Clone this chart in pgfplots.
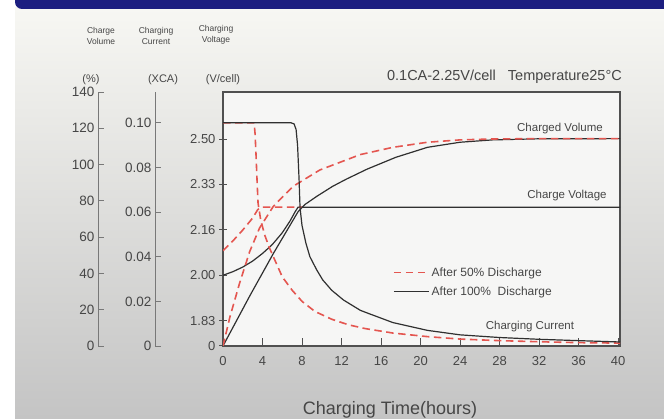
\documentclass[border=0pt]{standalone}
\usepackage{fontspec}
\setmainfont{Liberation Sans}
\usepackage{pgfplots}
\pgfplotsset{compat=1.18}
\definecolor{navy}{RGB}{28,30,128}
\definecolor{dred}{RGB}{228,86,80}
\definecolor{dk}{RGB}{48,48,48}
\definecolor{fr}{RGB}{80,80,80}
\definecolor{lab}{RGB}{70,70,70}
\definecolor{sc}{RGB}{120,120,120}
\tikzset{
  redd/.style={dred, line width=1.6pt, dash pattern=on 7.5pt off 4.5pt},
  blk/.style={dk, line width=1.2pt},
}
\pgfplotsset{
  common/.style={scale only axis, width=397pt, height=254pt, anchor=south west, at={(223pt,73pt)}, xmin=0, xmax=40.2},
  scaleax/.style={scale only axis, anchor=south west, width=20pt, height=254pt,
    xmin=0, xmax=1, axis x line=none, axis y line=left,
    axis line style={-, sc, line width=0.9pt}, ytick align=inside, major tick length=6pt,
    tick style={sc, line width=0.9pt},
    yticklabel style={font=\fontsize{13.5}{15}\selectfont, text=lab}},
}
\begin{document}
\begin{tikzpicture}[x=1pt,y=1pt]
\useasboundingbox (0,0) rectangle (664,419);
\clip (0,0) rectangle (664,419);
\fill[white] (0,0) rectangle (664,419);
\shade[top color={rgb,255:red,247;green,247;blue,243}, bottom color={rgb,255:red,196;green,196;blue,196}] (15,0) rectangle (664,411);
\fill[navy, rounded corners=7pt] (15,430) -- (15,410) -- (680,410) -- (680,430) -- cycle;

% main voltage axis (frame)
\begin{axis}[common, name=main,
  ymin=1.74, ymax=2.6733,
  axis line style={fr, line width=1.2pt},
  axis background/.style={fill={rgb,255:red,246;green,246;blue,245}},
  xtick={0,4,8,12,16,20,24,28,32,36,40},
  xticklabels={0,4,8,12,16,20,24,28,32,36,40},
  ytick={1.74,1.8333,2,2.1667,2.3333,2.5},
  yticklabels={0,1.83,2.00,2.16,2.33,2.50},
  xtick pos=lower, ytick pos=left,
  xtick align=inside, ytick align=center,
  major tick length=8pt,
  tick style={fr, line width=1pt},
  ticklabel style={font=\fontsize{13}{15}\selectfont, text=lab},
  xticklabel style={yshift=-7pt},
  legend style={at={(0.428,0.318)}, anchor=north west, draw=none, fill=none,
    font=\fontsize{12}{14}\selectfont, text=lab, row sep=5pt, inner sep=0pt},
  legend cell align=left,
  legend image code/.code={\draw[#1] (0pt,0pt) -- (35pt,0pt);},
]
\addlegendimage{dred, line width=1.6pt, dash pattern=on 7.5pt off 4.5pt}
\addlegendentry{After 50\% Discharge}
\addlegendimage{dk, line width=1.2pt}
\addlegendentry{After 100\%\ \ Discharge}
% charging voltage, after 100% discharge
\addplot[blk, forget plot] coordinates {
(0,2.000) (1,2.013) (2,2.030) (3,2.052) (4,2.080) (5,2.113) (6,2.156) (6.8,2.200) (7.3,2.233) (7.6,2.250) (40.2,2.250)};
% charging voltage, after 50% discharge
\addplot[redd, forget plot] coordinates {
(0,2.090) (1,2.126) (2,2.166) (3,2.210) (3.5,2.240) (3.8,2.250) (8.0,2.250)};
\end{axis}

% charged volume (%)
\begin{axis}[common, hide axis, ymin=0, ymax=140]
\addplot[blk] coordinates {
(0,0) (2.7,27.5) (5.1,51) (7.6,74) (8.3,78) (9.5,82.5) (11.1,88) (12.5,92) (14.6,97.5) (17.5,104) (20.7,109.5) (24,112.3) (27.3,113.6) (32,114.2) (40.2,114.3)};
\addplot[redd] coordinates {
(0,0) (0.7,16) (1.7,35) (2.7,52) (3.7,65) (5.1,77) (7.1,88) (9.8,97) (13.9,105.5) (17.2,109.5) (20.7,112.3) (24,113.6) (27.3,114.1) (32,114.3) (40.2,114.3)};
\end{axis}

% charging current (xCA)
\begin{axis}[common, hide axis, ymin=0, ymax=0.11382]
\addplot[redd] coordinates {
(0,0.1) (3.15,0.1) (3.25,0.095) (3.35,0.085) (3.45,0.074) (3.55,0.064) (3.8,0.057) (4.2,0.050) (4.7,0.044) (5.1,0.040) (6.0,0.031) (7.0,0.025) (8.0,0.020) (9.3,0.0155) (11,0.0120) (12.7,0.0095) (14.4,0.0078) (17.2,0.0058) (20.7,0.0042) (24,0.0031) (28,0.0024) (32,0.0019) (36,0.0015) (40.2,0.0013)};
\addplot[blk] coordinates {
(0,0.1) (6.9,0.1) (7.2,0.0995) (7.4,0.097) (7.55,0.09) (7.7,0.075) (7.8,0.062) (8.0,0.054) (8.4,0.046) (8.8,0.040) (9.5,0.034) (10.1,0.0296) (11,0.025) (12.2,0.0206) (13.9,0.0160) (14.6,0.0148) (17.2,0.0105) (20.7,0.0070) (24,0.0050) (28,0.0038) (32,0.0030) (36,0.0024) (40.2,0.0018)};
\end{axis}

% separate scale for charge volume
\begin{axis}[scaleax, at={(98pt,73pt)}, ymin=0, ymax=140,
  ytick={0,20,40,60,80,100,120,140}, yticklabels={0,20,40,60,80,100,120,140}]
\end{axis}
% separate scale for charging current
\begin{axis}[scaleax, at={(155pt,73pt)}, ymin=0, ymax=0.11382,
  ytick={0,0.02,0.04,0.06,0.08,0.1}, yticklabels={0,0.02,0.04,0.06,0.08,0.10}]
\end{axis}

% texts
\begin{scope}[every node/.style={text=lab, inner sep=0pt}]
\node[font=\fontsize{8.5}{11}\selectfont, align=center] at (101,383) {Charge\\Volume};
\node[font=\fontsize{8.5}{11}\selectfont, align=center] at (156,383) {Charging\\Current};
\node[font=\fontsize{8.5}{11}\selectfont, align=center] at (216,384) {Charging\\Voltage};
\node[font=\fontsize{11}{13}\selectfont] at (91,339) {(\%)};
\node[font=\fontsize{11}{13}\selectfont] at (163,339) {(XCA)};
\node[font=\fontsize{11}{13}\selectfont] at (223,339) {(V/cell)};
\node[font=\fontsize{14.5}{17}\selectfont, anchor=east] at (622,342) {0.1CA-2.25V/cell\ \ \ Temperature25\textdegree C};
\node[font=\fontsize{11.5}{13}\selectfont] at (560,290) {Charged Volume};
\node[font=\fontsize{11.5}{13}\selectfont] at (567,223) {Charge Voltage};
\node[font=\fontsize{11.5}{13}\selectfont] at (530,92) {Charging Current};
\node[font=\fontsize{18}{21}\selectfont] at (390,9) {Charging Time(hours)};
\end{scope}
\end{tikzpicture}
\end{document}
